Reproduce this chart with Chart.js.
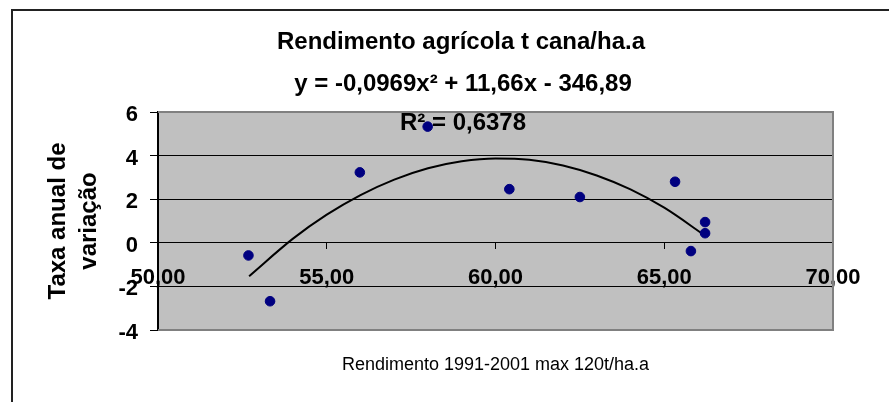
<!DOCTYPE html>
<html>
<head>
<meta charset="utf-8">
<script src="https://cdn.jsdelivr.net/npm/chart.js@4.4.0/dist/chart.umd.min.js"></script>
<style>
  html, body { margin: 0; padding: 0; background: #fff; }
  #wrap { width: 889px; height: 402px; }
</style>
</head>
<body>
<div id="wrap"><canvas id="rendChart" width="889" height="402"></canvas></div>
<script>
  // pontos (rendimento x taxa anual)
  const rendX = [52.68, 53.32, 55.98, 57.99, 60.41, 62.50, 65.32, 65.79, 66.21, 66.21];
  const taxaY = [-0.58, -2.68, 3.23, 5.33, 2.46, 2.10, 2.80, -0.38, 0.95, 0.44];

  // linha de tendência polinomial, lida ao longo da curva
  const trendX = [52.7, 54, 55, 56, 57, 58, 59, 60, 61, 62, 63, 64, 65, 66.2];
  const trendY = [-1.53, 0.19, 1.29, 2.19, 2.90, 3.42, 3.74, 3.87, 3.81, 3.55, 3.09, 2.45, 1.61, 0.34];

  const titulo = 'Rendimento agrícola t cana/ha.a';
  const equacao = 'y = -0,0969x² + 11,66x - 346,89';
  const r2 = 'R² = 0,6378';
  const eixoX = 'Rendimento 1991-2001 max 120t/ha.a';
  const eixoY = ['Taxa anual de', 'variação'];

  Chart.defaults.font.family = '"Liberation Sans", Arial, sans-serif';
  Chart.defaults.color = '#000';

  const fundo = {
    id: 'fundo',
    beforeDraw(chart) {
      const { ctx, chartArea: a } = chart;
      ctx.save();
      ctx.fillStyle = '#fff';
      ctx.fillRect(0, 0, chart.width, chart.height);
      // moldura externa
      ctx.strokeStyle = '#222';
      ctx.lineWidth = 2;
      ctx.beginPath();
      ctx.moveTo(12, chart.height);
      ctx.lineTo(12, 10);
      ctx.lineTo(chart.width, 10);
      ctx.stroke();
      // área de plotagem
      ctx.fillStyle = '#c0c0c0';
      ctx.fillRect(a.left, a.top, a.right - a.left, a.bottom - a.top);
      ctx.restore();
    },
    beforeDatasetsDraw(chart) {
      const { ctx, chartArea: a } = chart;
      ctx.save();
      ctx.strokeStyle = '#808080';
      ctx.lineWidth = 2;
      ctx.beginPath();
      ctx.moveTo(a.left, a.top);
      ctx.lineTo(a.right, a.top);
      ctx.lineTo(a.right, a.bottom);
      ctx.lineTo(a.left, a.bottom);
      ctx.stroke();
      // rótulo da linha de tendência
      ctx.fillStyle = '#000';
      ctx.font = 'bold 24px "Liberation Sans", Arial, sans-serif';
      ctx.textAlign = 'center';
      ctx.textBaseline = 'middle';
      ctx.fillText(equacao, 463, 84);
      ctx.fillText(r2, 463, 123);
      ctx.restore();
    }
  };

  function drawChart() {
    const ctx = document.getElementById('rendChart').getContext('2d');
    new Chart(ctx, {
      type: 'scatter',
      data: {
        datasets: [
          {
            label: 'Taxa anual',
            data: rendX.map((x, i) => ({ x: x, y: taxaY[i] })),
            backgroundColor: '#000080',
            borderColor: '#000080',
            pointRadius: 4.8,
            order: 1
          },
          {
            label: 'Tendência',
            data: trendX.map((x, i) => ({ x: x, y: trendY[i] })),
            showLine: true,
            borderColor: '#000',
            borderWidth: 2,
            pointRadius: 0,
            tension: 0.4,
            cubicInterpolationMode: 'monotone',
            order: 2
          }
        ]
      },
      options: {
        responsive: false,
        animation: false,
        layout: { padding: { left: 33, right: 0, top: 0, bottom: 0 } },
        plugins: {
          legend: { display: false },
          tooltip: { enabled: false },
          title: {
            display: true,
            text: titulo,
            color: '#000',
            font: { size: 24, weight: 'bold' },
            padding: { top: 28, bottom: 55.2 }
          }
        },
        scales: {
          x: {
            type: 'linear',
            position: { y: 0 },
            min: 50,
            max: 70,
            ticks: {
              stepSize: 5,
              maxRotation: 0,
              padding: 15.8,
              font: { size: 22, weight: 'bold' },
              callback: v => v.toFixed(2).replace('.', ',')
            },
            grid: { drawOnChartArea: false, drawTicks: true, tickLength: 6, color: '#000' },
            border: { display: true, color: '#000', width: 1 }
          },
          x2: {
            type: 'linear',
            position: 'bottom',
            afterFit: s => { s.height = 72; },
            ticks: { display: false },
            grid: { display: false, drawTicks: false },
            border: { display: false },
            title: {
              display: true,
              text: eixoX,
              font: { size: 18 },
              padding: { top: 0, bottom: 26.2 }
            }
          },
          y: {
            type: 'linear',
            position: 'left',
            min: -4,
            max: 6,
            afterFit: s => { s.width = 125; },
            ticks: { stepSize: 2, padding: 12, labelOffset: 3, font: { size: 22, weight: 'bold' } },
            grid: {
              color: c => (c.tick && (c.tick.value === 6 || c.tick.value === -4)) ? 'rgba(0,0,0,0)' : '#000',
              tickColor: '#000',
              tickLength: 8,
              lineWidth: 1
            },
            border: { color: '#000', width: 2 },
            title: {
              display: true,
              text: eixoY,
              font: { size: 24, weight: 'bold', lineHeight: 1.3 },
              padding: { top: 9.4, bottom: 0 }
            }
          },
          y2: {
            type: 'linear',
            position: 'right',
            afterFit: s => { s.width = 56; },
            ticks: { display: false },
            grid: { display: false, drawTicks: false },
            border: { display: false }
          }
        }
      },
      plugins: [fundo]
    });
  }

  window.onload = drawChart;
</script>
</body>
</html>
